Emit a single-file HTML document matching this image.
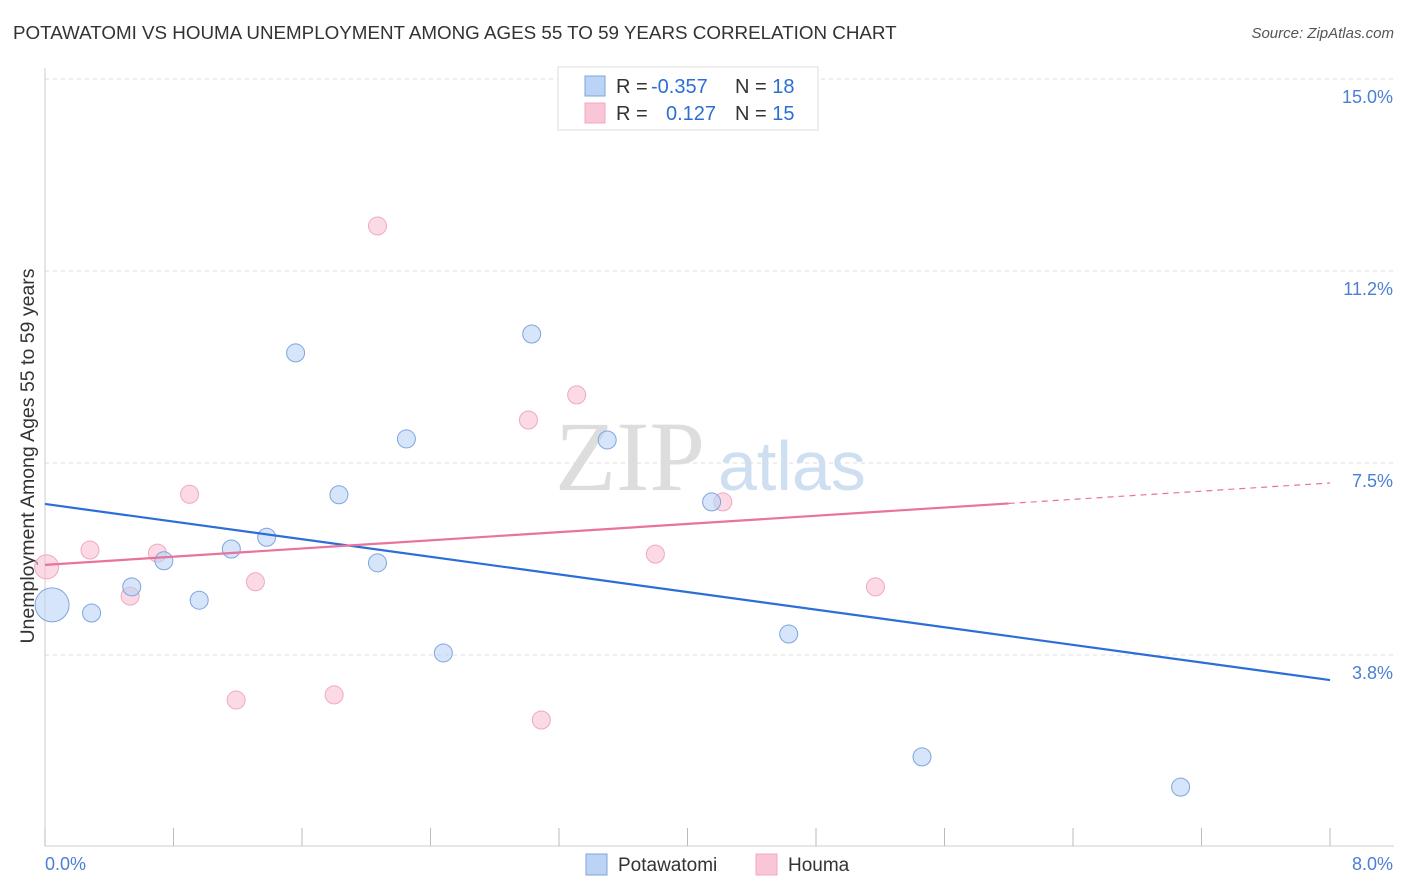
<!DOCTYPE html>
<html><head><meta charset="utf-8">
<style>
body{margin:0;background:#fff;font-family:"Liberation Sans",sans-serif;}
#wrap{position:relative;width:1406px;height:892px;overflow:hidden;}
.title{position:absolute;left:13px;top:22px;font-size:18.8px;color:#333;}
.src{position:absolute;right:12px;top:25px;font-size:15px;color:#555;font-style:italic;}
</style></head><body>
<div id="wrap">
<div class="title">POTAWATOMI VS HOUMA UNEMPLOYMENT AMONG AGES 55 TO 59 YEARS CORRELATION CHART</div>
<div class="src">Source: ZipAtlas.com</div>
<svg id="svg" width="1406" height="892" style="position:absolute;left:0;top:0"></svg>
</div>
<script>
const yTicks=[3.8,7.5,11.2,15.0];
const yTickVals=[3.75,7.5,11.25,15.0];
const blueX=[0.044,0.29,0.54,0.74,0.96,1.16,1.38,1.56,1.83,2.07,2.25,2.48,3.03,3.50,4.15,4.63,5.46,7.07];
const blueY=[4.73,4.57,5.08,5.59,4.82,5.82,6.05,9.65,6.88,5.55,7.97,3.79,10.02,7.95,6.74,4.16,1.76,1.17];
const blueR=[17,9,9,9,9,9,9,9,9,9,9,9,9,9,9,9,9,9];
const pinkX=[0.01,0.28,0.53,0.70,0.90,1.19,1.31,1.80,2.07,3.01,3.09,3.31,3.80,4.22,5.17];
const pinkY=[5.47,5.80,4.90,5.74,6.89,2.87,5.18,2.97,12.13,8.34,2.48,8.83,5.72,6.74,5.08];
const pinkR=[12,9,9,9,9,9,9,9,9,9,9,9,9,9,9];
const blueTrend=[6.70,3.26];
const pinkTrend=[5.51,7.11];
const pinkSolidEnd=6.0;

const X=v=>45+v*1285/8, Y=v=>79+(15-v)*51.2;
const svg=document.getElementById('svg');const NS='http://www.w3.org/2000/svg';
function mk(t,a,txt){const e=document.createElementNS(NS,t);for(const k in a)e.setAttribute(k,a[k]);if(txt!=null)e.textContent=txt;svg.appendChild(e);return e;}
let w=mk('text',{x:555,y:490,'font-size':100,fill:'#ddd','font-family':'Liberation Serif'},'ZIP');


w=mk('text',{x:718,y:490,'font-size':70,fill:'#cfdff2','font-family':'Liberation Sans'},'atlas');


yTickVals.forEach((v,i)=>{
 const g=mk('line',{x1:45,x2:1394,y1:Y(v),y2:Y(v),stroke:'#ddd','stroke-dasharray':'4,4'});
 
 
 const t=mk('text',{x:1393,y:Y(v)+24,'text-anchor':'end','font-size':18,fill:'#4a7fd4'},yTicks[i].toFixed(1)+'%');
 
 
});
let a=mk('line',{x1:45,x2:45,y1:68,y2:846,stroke:'#ccc'});


a=mk('line',{x1:45,x2:1394,y1:846,y2:846,stroke:'#ccc'});


for(let i=0;i<=10;i++){const tk=mk('line',{x1:X(i*0.8),x2:X(i*0.8),y1:828,y2:846,stroke:'#bbb'});
 
 }
let t=mk('text',{x:45,y:870,'font-size':18,fill:'#4a7fd4'},'0.0%');


t=mk('text',{x:1393,y:870,'text-anchor':'end','font-size':18,fill:'#4a7fd4'},'8.0%');


t=mk('text',{x:34,y:456,'text-anchor':'middle','font-size':19.5,fill:'#333',transform:'rotate(-90 34 456)'},'Unemployment Among Ages 55 to 59 years');


pinkX.forEach((x,i)=>{const c=mk('circle',{cx:X(x),cy:Y(pinkY[i]),r:pinkR[i],fill:'rgba(248,187,208,0.55)',stroke:'#f0a8c0','stroke-width':1});
 
 });
blueX.forEach((x,i)=>{const c=mk('circle',{cx:X(x),cy:Y(blueY[i]),r:blueR[i],fill:'rgba(187,212,245,0.6)',stroke:'#7da6dd','stroke-width':1});
 
 });
let l=mk('line',{x1:X(0),y1:Y(blueTrend[0]),x2:X(8),y2:Y(blueTrend[1]),stroke:'#2b6fd6','stroke-width':2.2});


const pAt=x=>pinkTrend[0]+(pinkTrend[1]-pinkTrend[0])*x/8;
l=mk('line',{x1:X(0),y1:Y(pAt(0)),x2:X(pinkSolidEnd),y2:Y(pAt(pinkSolidEnd)),stroke:'#e8739c','stroke-width':2.2});


l=mk('line',{x1:X(pinkSolidEnd),y1:Y(pAt(pinkSolidEnd)),x2:X(8),y2:Y(pAt(8)),stroke:'#e8739c','stroke-width':1.2,'stroke-dasharray':'6,5'});


let r=mk('rect',{x:558,y:67,width:260,height:63,fill:'#fff',stroke:'#ddd'});


[['#bbd4f5','#7da6dd',86,'R = ','-0.357','18','legend-potawatomi'],['#f8c6d6','#f0a8c0',113,'R = ',' 0.127','15','legend-houma']].forEach(d=>{
 const s=mk('rect',{x:585,y:d[2]-10,width:20,height:20,fill:d[0],stroke:d[1]});
 
 
 const g=mk('text',{x:616,y:d[2]+7,'font-size':20,fill:'#333'});
 
 
 g.innerHTML='R = <tspan fill="#2b6fd6" x="651">'+d[4].trim()+'</tspan><tspan x="735">N = </tspan><tspan fill="#2b6fd6">'+d[5]+'</tspan>';
 if(d[4].startsWith(' '))g.children[0].setAttribute('x','666');
});
[[586,'#bbd4f5','#7da6dd','Potawatomi','legend-bottom-potawatomi'],[756,'#f8c6d6','#f0a8c0','Houma','legend-bottom-houma']].forEach(d=>{
 const s=mk('rect',{x:d[0],y:854,width:21,height:21,fill:d[1],stroke:d[2]});
 
 
 const tt=mk('text',{x:d[0]+32,y:871,'font-size':19,fill:'#333'},d[3]);
 
 
});
</script>
</body></html>
